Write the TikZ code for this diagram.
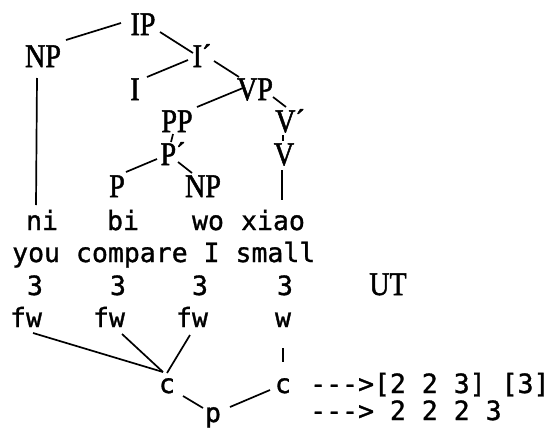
\documentclass[tikz,border=0pt]{standalone}
\usepackage{fontspec}
\newfontfamily\treefont[FakeStretch=0.85,FakeBold=1.5]{Liberation Serif}
\newfontfamily\monofont[Ligatures=TeXOff,FakeBold=1.2]{DejaVu Sans Mono}
\begin{document}
\begin{tikzpicture}[x=1pt,y=-1pt,
  cat/.style={font=\treefont\fontsize{33}{33}\selectfont, inner sep=0pt, anchor=base},
  txt/.style={font=\monofont\fontsize{26.5}{26.5}\selectfont, inner sep=0pt, anchor=base},
  txtw/.style={txt, anchor=base west},
  edge/.style={line width=1.7pt}]
\useasboundingbox (0,0) rectangle (558,429);
% tree
\node[cat] (IP) at (143,35) {IP};
\node[cat] (NPa) at (43,67) {NP};
\node[cat] (Ib) at (202,67) {I´};
\node[cat] (I) at (135,100) {I};
\node[cat] (VP) at (255,100) {VP};
\node[cat] (PP) at (177,132) {PP};
\node[cat] (Vb) at (290,132) {V´};
\node[cat] (Pb) at (173,165) {P´};
\node[cat] (V) at (284,165) {V};
\node[cat] (P) at (117,197) {P};
\node[cat] (NPb) at (203,197) {NP};
\node[cat] (UT) at (388,295) {UT};
% words
\node[txt] (ni) at (42,230) {ni};
\node[txt] (bi) at (123,230) {bi};
\node[txt] (wo) at (208,230) {wo};
\node[txt] (xiao) at (273,230) {xiao};
\node[txtw] (gloss) at (12,262) {you compare I small};
\node[txt] (t1) at (35,295) {3};
\node[txt] (t2) at (118,295) {3};
\node[txt] (t3) at (200,295) {3};
\node[txt] (t4) at (285,295) {3};
\node[txt] (fa) at (26,327) {fw};
\node[txt] (fb) at (109,327) {fw};
\node[txt] (fc) at (192,327) {fw};
\node[txt] (w) at (283,327) {w};
\node[txt] (ca) at (167,393) {c};
\node[txt] (cb) at (283,393) {c};
\node[txt] (p) at (213,422) {p};
\node[txtw] (ra) at (310,393) {--->[2 2 3] [3]};
\node[txtw] (rb) at (310,420) {---> 2 2 2 3};
% tree edges
\draw[edge] ([shift={(23,-27)}]NPa.base) -- ([shift={(-22,-12)}]IP.base);
\draw[edge] ([shift={(17,-3)}]IP.base) -- ([shift={(-9,-14)}]Ib.base);
\draw[edge] ([shift={(-14,-7)}]Ib.base) -- ([shift={(12,-23)}]I.base);
\draw[edge] ([shift={(12,-6)}]Ib.base) -- ([shift={(-16,-23)}]VP.base);
\draw[edge] ([shift={(-12,-12)}]VP.base) -- ([shift={(20,-25)}]PP.base);
\draw[edge] ([shift={(18,-3)}]VP.base) -- ([shift={(-4,-25)}]Vb.base);
\draw[edge] ([shift={(-4,2)}]PP.base) -- ([shift={(-2,-23)}]Pb.base);
\draw[edge] ([shift={(-7,3)}]Vb.base) -- ([shift={(-1,-24)}]V.base);
\draw[edge] ([shift={(-16,-6)}]Pb.base) -- ([shift={(9,-25)}]P.base);
\draw[edge] ([shift={(5,-3)}]Pb.base) -- ([shift={(-11,-24)}]NPb.base);
\draw[edge] ([shift={(-6,11)}]NPa.base) -- ([shift={(-6,-25)}]ni.base);
\draw[edge] ([shift={(-2,5)}]V.base) -- ([shift={(9,-30)}]xiao.base);
% bottom structure
\draw[edge] ([shift={(7,6)}]fa.base) -- ([shift={(-4,-21)}]ca.base);
\draw[edge] ([shift={(13,7)}]fb.base) -- ([shift={(-4,-21)}]ca.base);
\draw[edge] ([shift={(-2,8)}]fc.base) -- ([shift={(0,-20)}]ca.base);
\draw[edge] ([shift={(0,21)}]w.base) -- ([shift={(0,-31)}]cb.base);
\draw[edge] ([shift={(16,3)}]ca.base) -- ([shift={(-10,-14)}]p.base);
\draw[edge] ([shift={(17,-15)}]p.base) -- ([shift={(-13,-3)}]cb.base);
\end{tikzpicture}
\end{document}
